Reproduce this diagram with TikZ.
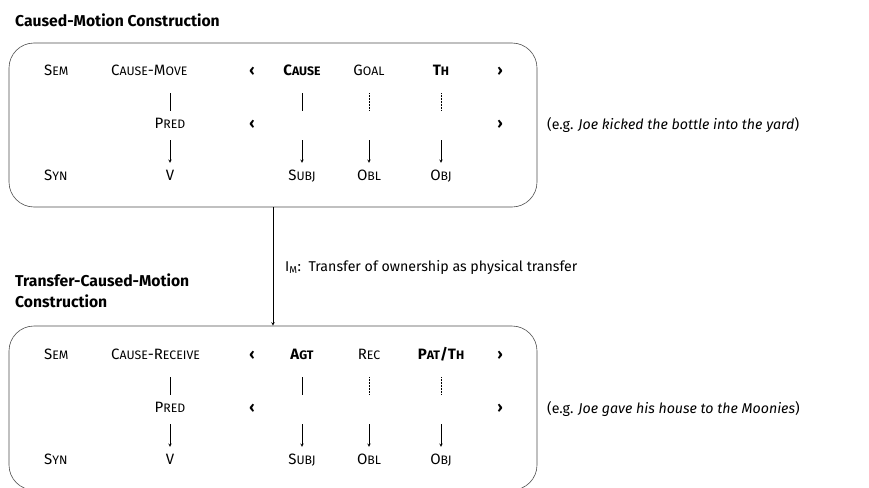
\documentclass[tikz,border=0pt]{standalone}
\usepackage{fontspec}
\setmainfont{Fira Sans}
\usetikzlibrary{positioning}

% small capitals: first letter full size, the rest smaller
\newcommand{\smc}[2]{#1{\fontsize{12.3}{14}\selectfont #2}}

\begin{document}
\begin{tikzpicture}[
    x=1pt, y=-1pt,
    >=stealth,
    every node/.style={font=\fontsize{14.2}{17}\selectfont},
    title/.style={anchor=west, align=left, inner sep=0pt, font=\fontsize{15.7}{21.5}\selectfont\bfseries},
    cxbox/.style={draw=black!70, line width=0.6pt, rounded corners=25pt, inner sep=0pt, minimum width=528pt, minimum height=164pt},
    role/.style={inner sep=1pt, text height=9pt, text depth=2pt, font=\fontsize{15}{17}\selectfont},
    strong/.style={role, font=\fontsize{15}{17}\selectfont\bfseries},
    link/.style={line width=0.5pt, shorten <=14.5pt, shorten >=7.5pt},
    dlink/.style={link, densely dotted},
    map/.style={->, line width=0.5pt, shorten <=8.5pt, shorten >=7.5pt},
    note/.style={anchor=west, inner sep=0pt}
]
  \useasboundingbox (0,0) rectangle (869,487);

  % Caused-motion construction
  \node[title] (t1) at (15,20) {Caused-Motion Construction};
  \node[cxbox] (box1) at (273,125) {};
  \node[role, anchor=west] (sem1) at (43,72) {\smc{S}{EM}};
  \node[role, anchor=west] (cm1) at (110,72) {\smc{C}{AUSE}-\smc{M}{OVE}};
  \node[strong] (la1) at (252,72) {‹};
  \node[strong] (ca1) at (302,72) {\smc{C}{AUSE}};
  \node[role] (go1) at (369,72) {\smc{G}{OAL}};
  \node[strong] (th1) at (441,72) {\smc{T}{H}};
  \node[strong] (ra1) at (500,72) {›};

  \node[role] (pr1) at (170,125) {\smc{P}{RED}};
  \node[strong] (lb1) at (252,125) {‹};
  \node[role] (ca1m) at (302,125) {};
  \node[role] (go1m) at (369,125) {};
  \node[role] (th1m) at (441,125) {};
  \node[strong] (rb1) at (500,125) {›};

  \node[role, anchor=west] (syn1) at (43,177) {\smc{S}{YN}};
  \node[role] (v1) at (170,177) {V};
  \node[role] (su1) at (302,177) {\smc{S}{UBJ}};
  \node[role] (ob1) at (369,177) {\smc{O}{BL}};
  \node[role] (oj1) at (441,177) {\smc{O}{BJ}};

  \draw[link] (cm1.south -| pr1.north) -- (pr1.north);
  \draw[link] (ca1.south) -- (ca1m.north);
  \draw[dlink] (go1.south) -- (go1m.north);
  \draw[dlink] (th1.south) -- (th1m.north);
  \draw[map] (pr1.south) -- (v1.north);
  \draw[map] (ca1m.south) -- (su1.north);
  \draw[map] (go1m.south) -- (ob1.north);
  \draw[map] (th1m.south) -- (oj1.north);

  \node[note] (eg1) at (547,125) {(e.g. \textit{Joe kicked the bottle into the yard})};

  % Inheritance link
  \node[title] (t2) at (15,291) {Transfer-Caused-Motion\\Construction};
  \node[cxbox] (box2) at (273,408) {};
  \draw[->, line width=0.6pt] (box1.south) -- (box2.north);
  \node[note] (im) at (285,267) {I\textsubscript{M}:\ \ Transfer of ownership as physical transfer};

  % Transfer-caused-motion construction
  \node[role, anchor=west] (sem2) at (43,356) {\smc{S}{EM}};
  \node[role, anchor=west] (cr2) at (110,356) {\smc{C}{AUSE}-\smc{R}{ECEIVE}};
  \node[strong] (la2) at (252,356) {‹};
  \node[strong] (ag2) at (302,356) {\smc{A}{GT}};
  \node[role] (re2) at (369,356) {\smc{R}{EC}};
  \node[strong] (pt2) at (441,356) {\smc{P}{AT}/\smc{T}{H}};
  \node[strong] (ra2) at (500,356) {›};

  \node[role] (pr2) at (170,409) {\smc{P}{RED}};
  \node[strong] (lb2) at (252,409) {‹};
  \node[role] (ag2m) at (302,409) {};
  \node[role] (re2m) at (369,409) {};
  \node[role] (pt2m) at (441,409) {};
  \node[strong] (rb2) at (500,409) {›};

  \node[role, anchor=west] (syn2) at (43,461) {\smc{S}{YN}};
  \node[role] (v2) at (170,461) {V};
  \node[role] (su2) at (302,461) {\smc{S}{UBJ}};
  \node[role] (ob2) at (369,461) {\smc{O}{BL}};
  \node[role] (oj2) at (441,461) {\smc{O}{BJ}};

  \draw[link] (cr2.south -| pr2.north) -- (pr2.north);
  \draw[link] (ag2.south) -- (ag2m.north);
  \draw[dlink] (re2.south) -- (re2m.north);
  \draw[dlink] (pt2.south) -- (pt2m.north);
  \draw[map] (pr2.south) -- (v2.north);
  \draw[map] (ag2m.south) -- (su2.north);
  \draw[map] (re2m.south) -- (ob2.north);
  \draw[map] (pt2m.south) -- (oj2.north);

  \node[note] (eg2) at (547,409) {(e.g. \textit{Joe gave his house to the Moonies})};
\end{tikzpicture}
\end{document}
